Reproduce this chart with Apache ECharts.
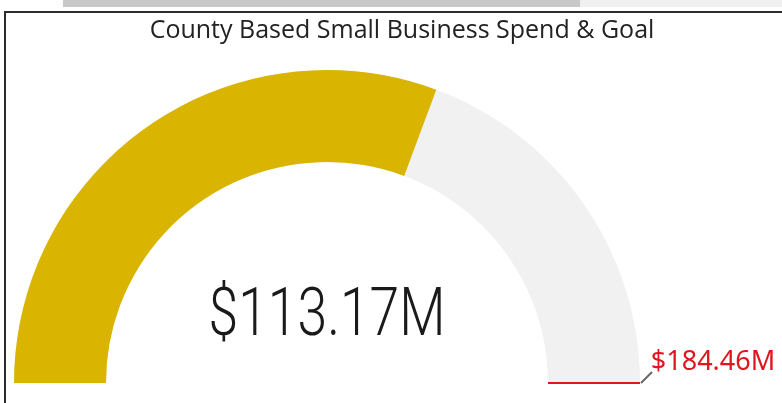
<!DOCTYPE html>
<html>
<head>
<meta charset="utf-8">
<script src="https://cdn.jsdelivr.net/npm/echarts@6/dist/echarts.min.js"></script>
<style>
  html, body { margin: 0; padding: 0; background: #fff; }
  #wrap { position: relative; width: 782px; height: 403px; overflow: hidden; }
  #main { position: absolute; left: 0; top: 0; width: 782px; height: 403px; }
  .bar-dark { position: absolute; left: 63px; top: 0; width: 517px; height: 7px; background: #c8c8c8; }
  .bar-light { position: absolute; left: 580px; top: 0; width: 202px; height: 7px; background: #f0f0f0; }
  .frame { position: absolute; left: 4px; top: 11px; right: -10px; bottom: -10px;
           border-top: 2px solid #2b2b2b; border-left: 2px solid #2b2b2b; }
</style>
</head>
<body>
<div id="wrap">
  <div class="bar-dark"></div>
  <div class="bar-light"></div>
  <div class="frame"></div>
  <div id="main"></div>
</div>
<script>
// data
const chartTitle = 'County Based Small Business Spend & Goal';
const spendValue = [113.17];   // $M, actual
const goalValue = [184.46];    // $M, target (also gauge max)

const fmt = v => '$' + v.toFixed(2) + 'M';

const chart = echarts.init(document.getElementById('main'), null, { renderer: 'canvas' });

const cx = 327, cy = 383, R = 313, W = 92;

const option = {
  backgroundColor: 'transparent',
  title: {
    text: chartTitle,
    left: 397,
    top: 13,
    textAlign: 'center',
    textStyle: {
      fontFamily: 'Open Sans',
      fontWeight: 'normal',
      fontSize: 25,
      color: '#222'
    }
  },
  series: [
    {
      // actual spend
      type: 'gauge',
      center: [cx, cy],
      radius: R,
      startAngle: 180,
      endAngle: 0,
      min: 0,
      max: goalValue[0],
      progress: { show: true, width: W, roundCap: false, itemStyle: { color: '#D9B400' } },
      axisLine: { roundCap: false, lineStyle: { width: W, color: [[1, '#F1F1F1']] } },
      pointer: { show: false },
      axisTick: { show: false },
      splitLine: { show: false },
      axisLabel: { show: false },
      anchor: { show: false },
      title: { show: false },
      detail: { show: false },
      animation: false,
      data: spendValue.map(v => ({ value: v }))
    },
    {
      // goal marker
      type: 'gauge',
      center: [cx, cy],
      radius: R,
      startAngle: 180,
      endAngle: 0,
      min: 0,
      max: goalValue[0],
      axisLine: { show: false },
      progress: { show: false },
      axisTick: { show: false },
      splitLine: { show: false },
      axisLabel: { show: false },
      anchor: { show: false },
      title: { show: false },
      pointer: {
        show: true,
        icon: 'rect',
        width: 2,
        length: W,
        offsetCenter: [0, -(R - W)],
        itemStyle: { color: '#E0161E' }
      },
      detail: {
        show: true,
        offsetCenter: [386, -21],
        formatter: v => fmt(v),
        fontFamily: 'Noto Sans',
        fontWeight: 'normal',
        fontSize: 27,
        color: '#E0161E'
      },
      animation: false,
      data: goalValue.map(v => ({ value: v }))
    }
  ],
  graphic: [
    {
      type: 'text',
      x: cx,
      y: 318,
      scaleX: 0.81,
      style: {
        text: fmt(spendValue[0]),
        fontFamily: 'Roboto',
        fontWeight: 300,
        fontSize: 66,
        fill: '#1a1a1a',
        textAlign: 'center',
        textVerticalAlign: 'middle'
      }
    },
    {
      type: 'polyline',
      shape: { points: [[cx + R + 1, cy], [652, 372]] },
      style: { stroke: '#666', lineWidth: 2, fill: null }
    }
  ]
};

chart.setOption(option);
</script>
</body>
</html>
